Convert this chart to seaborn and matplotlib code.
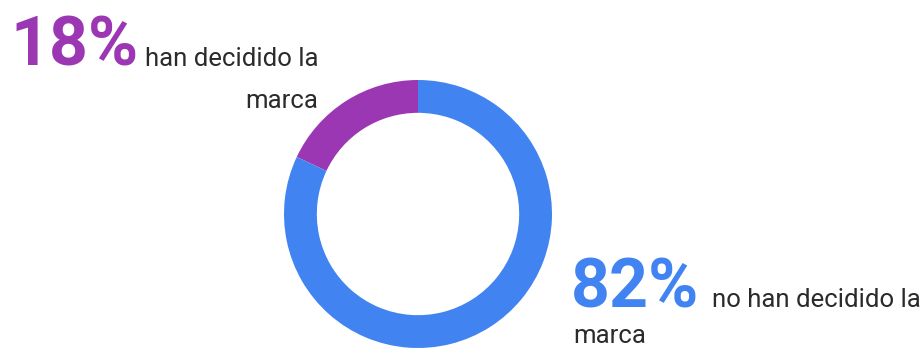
import matplotlib
matplotlib.use("Agg")
import matplotlib.pyplot as plt
import seaborn as sns

# Shares of shoppers by brand decision
labels = ["han decidido la marca", "no han decidido la marca"]
shares = [18, 82]
colors = ["#9C37B3", "#4184F1"]

sns.set_theme(style="white")
plt.rcParams["font.family"] = ["Roboto", "DejaVu Sans"]

W, H, DPI = 924, 348, 100
fig = plt.figure(figsize=(W / DPI, H / DPI), dpi=DPI)
fig.patch.set_facecolor("white")

# Ring centred at (418, 214) px with outer radius 134 px
cx, cy, r = 418, 214, 134
ax = fig.add_axes([(cx - r) / W, (H - cy - r) / H, 2 * r / W, 2 * r / H])
ax.pie(shares, colors=colors, startangle=90, counterclock=True,
       radius=1.0, wedgeprops=dict(width=0.245, linewidth=0))
ax.set_xlim(-1, 1)
ax.set_ylim(-1, 1)
ax.set_aspect("equal")
ax.axis("off")


def px(x, y):
    return x / W, 1 - y / H


text_color = "#2b2b2b"
body = 18.5

# Purple callout, top left
fig.text(*px(10, 66), f"{shares[0]}%", color=colors[0], fontsize=49,
         fontweight="bold", va="baseline", ha="left")
fig.text(*px(145, 66), "han decidido la", color=text_color, fontsize=body,
         va="baseline", ha="left")
fig.text(*px(318, 108), "marca", color=text_color, fontsize=body,
         va="baseline", ha="right")

# Blue callout, bottom right
fig.text(*px(571, 307), f"{shares[1]}%", color=colors[1], fontsize=49,
         fontweight="bold", va="baseline", ha="left")
fig.text(*px(712, 307), "no han decidido la", color=text_color, fontsize=body,
         va="baseline", ha="left")
fig.text(*px(573, 343), "marca", color=text_color, fontsize=body,
         va="baseline", ha="left")

fig.savefig("out.png", dpi=DPI, facecolor="white")
